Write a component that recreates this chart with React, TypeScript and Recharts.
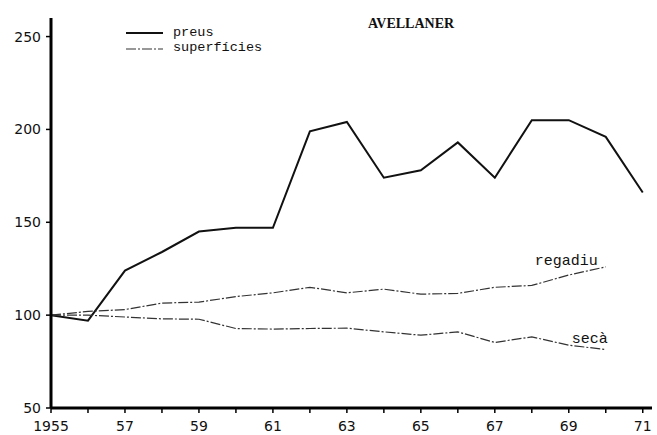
import React from 'react';
import { LineChart, Line, XAxis, YAxis, Legend } from 'recharts';

const years = [1955, 1956, 1957, 1958, 1959, 1960, 1961, 1962, 1963, 1964, 1965, 1966, 1967, 1968, 1969, 1970, 1971];
const preus = [100, 97, 124, 134, 145, 147, 147, 199, 204, 174, 178, 193, 174, 205, 205, 196, 166];
const regadiu = [100, 102, 103, 106.5, 107, 110, 112, 115, 112, 114, 111.3, 111.7, 115, 116, 121.6, 126, null];
const seca = [100, 100, 99, 98, 97.8, 92.8, 92.5, 92.8, 93, 91, 89.2, 91, 85.3, 88.3, 83.8, 81.5, null];
const xTickLabels = ['1955', '', '57', '', '59', '', '61', '', '63', '', '65', '', '67', '', '69', '', '71'];
const yTicks = [50, 100, 150, 200, 250];

const data = years.map((year, i) => ({
  year,
  preus: preus[i],
  regadiu: regadiu[i],
  seca: seca[i],
}));

const monoFont = '"Liberation Mono", "DejaVu Sans Mono", monospace';
const tickFont = { fontFamily: '"DejaVu Sans", sans-serif', fontSize: 14, fill: '#111' };

const endLabel = (text: string, dx: number, dy: number) => (props: any) => {
  const { x, y, index } = props;
  if (index !== 15) return null;
  return (
    <text x={x + dx} y={y + dy} textAnchor="end" fontFamily={monoFont} fontSize={15} fill="#111">
      {text}
    </text>
  );
};

const renderLegend = () => (
  <div style={{ fontFamily: monoFont, fontSize: 13.5, color: '#111', lineHeight: '15px' }}>
    <div style={{ display: 'flex', alignItems: 'center', height: 15 }}>
      <svg width={47} height={12}>
        <line x1={0} y1={6} x2={37} y2={6} stroke="#111" strokeWidth={2} />
      </svg>
      <span>preus</span>
    </div>
    <div style={{ display: 'flex', alignItems: 'center', height: 15 }}>
      <svg width={47} height={12}>
        <line x1={0} y1={7} x2={37} y2={7} stroke="#333" strokeWidth={1.2} strokeDasharray="10 2 2 2" />
      </svg>
      <span>superfícies</span>
    </div>
  </div>
);

export default function App() {
  return (
    <div style={{ position: 'absolute', left: 0, top: 0, width: 657, height: 435, background: '#fff' }}>
      <div
        style={{
          position: 'absolute',
          left: 368,
          top: 16,
          fontFamily: '"Liberation Serif", serif',
          fontWeight: 'bold',
          fontSize: 14,
          color: '#111',
          zIndex: 2,
        }}
      >
        AVELLANER
      </div>
      <LineChart width={657} height={435} data={data} margin={{ top: 18, right: 5, bottom: 0, left: 0 }}>
        <XAxis
          dataKey="year"
          type="number"
          domain={[1955, 1971.25]}
          ticks={years}
          allowDataOverflow
          tickFormatter={(v: number) => xTickLabels[years.indexOf(v)] ?? ''}
          axisLine={{ stroke: '#000', strokeWidth: 3 }}
          tickLine={{ stroke: '#000', strokeWidth: 1.5 }}
          tickSize={5}
          tickMargin={8}
          tick={tickFont}
          height={27}
          interval={0}
        />
        <YAxis
          type="number"
          domain={[50, 260]}
          ticks={yTicks}
          allowDataOverflow
          axisLine={{ stroke: '#000', strokeWidth: 3 }}
          tickLine={{ stroke: '#000', strokeWidth: 1.5 }}
          tickSize={5}
          tickMargin={5}
          tick={tickFont}
          width={51}
        />
        <Legend
          layout="horizontal"
          verticalAlign="middle"
          align="center"
          content={renderLegend}
          wrapperStyle={{ position: 'absolute', left: 126, top: 25, width: 200 }}
        />
        <Line
          type="linear"
          dataKey="preus"
          stroke="#111"
          strokeWidth={2}
          dot={false}
          isAnimationActive={false}
        />
        <Line
          type="linear"
          dataKey="regadiu"
          stroke="#333"
          strokeWidth={1.2}
          strokeDasharray="10 2 2 2"
          dot={false}
          isAnimationActive={false}
          label={endLabel('regadiu', -8, -2)}
        />
        <Line
          type="linear"
          dataKey="seca"
          stroke="#333"
          strokeWidth={1.2}
          strokeDasharray="10 2 2 2"
          dot={false}
          isAnimationActive={false}
          label={endLabel('secà', 2, -7)}
        />
      </LineChart>
    </div>
  );
}
